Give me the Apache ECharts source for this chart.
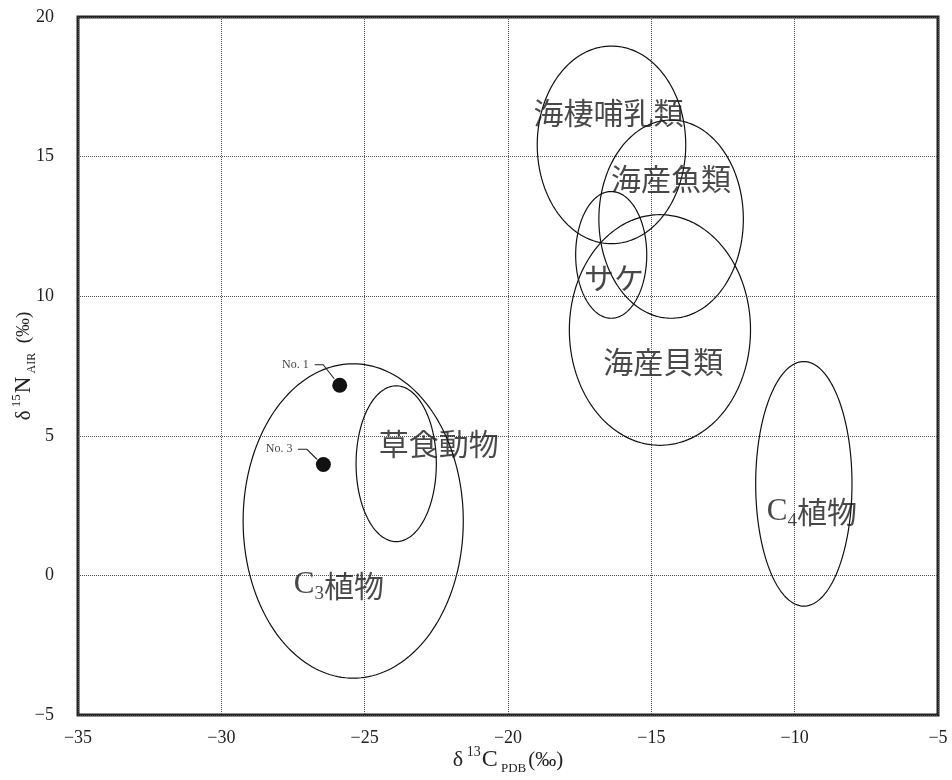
<!DOCTYPE html>
<html>
<head>
<meta charset="utf-8">
<script src="https://cdn.jsdelivr.net/npm/echarts@6/dist/echarts.min.js"></script>
<style>html,body{margin:0;padding:0;background:#fff}#c{width:952px;height:780px}</style>
</head>
<body>
<div id="c"></div>
<script>
// ---- data ----
const groupNames = ['C3植物', '草食動物', '海棲哺乳類', '海産魚類', 'サケ', '海産貝類', 'C4植物'];
const centerX = [-25.40, -23.90, -16.39, -14.31, -16.40, -14.70, -9.68];
const centerY = [1.95, 4.00, 15.42, 12.76, 11.48, 8.79, 3.28];
const radiusX = [3.84, 1.40, 2.59, 2.52, 1.24, 3.16, 1.68];
const radiusY = [5.63, 2.79, 3.54, 3.55, 2.27, 4.13, 4.38];
const labelX = [-25.90, -22.42, -16.49, -14.31, -16.30, -14.58, -9.40];
const labelY = [-0.35, 4.72, 16.58, 14.20, 10.68, 7.64, 2.27];
const sampleNames = ['No. 1', 'No. 3'];
const sampleX = [-25.87, -26.44];
const sampleY = [6.81, 3.97];
const xMin = -35, xMax = -5, xStep = 5;
const yMin = -5, yMax = 20, yStep = 5;

// ---- styles ----
const serif = '"Liberation Serif", "DejaVu Serif", serif';
const cjk = '"Noto Sans CJK JP", sans-serif';
const leaderOffsets = {
  'No. 1': { text: [-31, -20.5], pts: [[-25, -20.5], [-16.5, -20.5], [-5.5, -6.5]] },
  'No. 3': { text: [-31, -15.3], pts: [[-25.5, -15.3], [-16.5, -15.3], [-6.5, -5.3]] }
};

const ellipseData = groupNames.map((n, i) => [centerX[i], centerY[i], radiusX[i], radiusY[i]]);
const labelData = groupNames.map((n, i) => ({ name: n, value: [labelX[i], labelY[i]] }));
const sampleData = sampleNames.map((n, i) => ({ name: n, value: [sampleX[i], sampleY[i]] }));

function fmtLabel(name) {
  const m = name.match(/^C(\d)(.*)$/);
  if (m) return '{c|C}{sub|' + m[1] + '}{t|' + m[2] + '}';
  return '{t|' + name + '}';
}

const chart = echarts.init(document.getElementById('c'), null, { renderer: 'canvas' });
const minus = v => String(v).replace('-', '\u2212');

chart.setOption({
  animation: false,
  backgroundColor: '#fff',
  grid: { left: 78, right: 14, top: 17, bottom: 65, containLabel: false, outerBoundsMode: 'none', show: true, borderWidth: 3, borderColor: '#222', backgroundColor: 'transparent' },
  xAxis: {
    type: 'value', min: xMin, max: xMax, interval: xStep,
    axisLine: { show: false }, axisTick: { show: false },
    splitLine: { show: true, lineStyle: { color: '#555', width: 1, type: [1, 1] } },
    axisLabel: { formatter: minus, color: '#222', fontFamily: serif, fontSize: 18, margin: 14 },
    name: '{d|δ}{sup| 13}{c|C}{sub| PDB}{p|(‰)}',
    nameLocation: 'middle', nameGap: 30, nameMoveOverlap: false,
    nameTextStyle: {
      color: '#222', fontFamily: serif,
      rich: {
        d: { fontSize: 22, fontFamily: serif, color: '#222', lineHeight: 30 },
        sup: { fontSize: 14, fontFamily: serif, color: '#222', verticalAlign: 'top', lineHeight: 30, padding: [0, 1, 0, 0] },
        c: { fontSize: 24, fontFamily: serif, color: '#222', lineHeight: 30 },
        sub: { fontSize: 13, fontFamily: serif, color: '#222', verticalAlign: 'bottom', lineHeight: 18, padding: [0, 2, 0, 0] },
        p: { fontSize: 21, fontFamily: serif, color: '#222', lineHeight: 30 }
      }
    }
  },
  yAxis: {
    type: 'value', min: yMin, max: yMax, interval: yStep,
    axisLine: { show: false }, axisTick: { show: false },
    splitLine: { show: true, lineStyle: { color: '#555', width: 1, type: [1, 1] } },
    axisLabel: { formatter: minus, color: '#222', fontFamily: serif, fontSize: 18, margin: 24 },
    name: '{d|δ}{sup| 15}{c|N}{sub| AIR}{p|  (‰)}',
    nameLocation: 'middle', nameGap: 40, nameRotate: 90, nameMoveOverlap: false,
    nameTextStyle: {
      color: '#222', fontFamily: serif,
      rich: {
        d: { fontSize: 21, fontFamily: serif, color: '#222', lineHeight: 28 },
        sup: { fontSize: 13, fontFamily: serif, color: '#222', verticalAlign: 'top', lineHeight: 28, padding: [0, 1, 0, 0] },
        c: { fontSize: 23, fontFamily: serif, color: '#222', lineHeight: 28 },
        sub: { fontSize: 12, fontFamily: serif, color: '#222', verticalAlign: 'bottom', lineHeight: 16 },
        p: { fontSize: 19, fontFamily: serif, color: '#222', lineHeight: 28 }
      }
    }
  },
  series: [
    {
      type: 'custom',
      name: 'ellipses',
      silent: true,
      clip: false,
      data: ellipseData,
      renderItem: function (params, api) {
        const cx = api.value(0), cy = api.value(1), rx = api.value(2), ry = api.value(3);
        const pts = [];
        const N = 180;
        for (let k = 0; k < N; k++) {
          const a = 2 * Math.PI * k / N;
          pts.push(api.coord([cx + rx * Math.cos(a), cy + ry * Math.sin(a)]));
        }
        return {
          type: 'polygon',
          shape: { points: pts },
          style: { fill: 'none', stroke: '#111', lineWidth: 1.2 }
        };
      },
      z: 2
    },
    {
      type: 'scatter',
      name: 'labels',
      silent: true,
      symbolSize: 0,
      data: labelData,
      label: {
        show: true, position: 'inside',
        formatter: p => fmtLabel(p.name),
        rich: {
          t: { fontSize: 30, fontFamily: cjk, color: '#1a1a1a', lineHeight: 36 },
          c: { fontSize: 31, fontFamily: serif, color: '#1a1a1a', lineHeight: 36 },
          sub: { fontSize: 19, fontFamily: serif, color: '#1a1a1a', verticalAlign: 'bottom', lineHeight: 12 }
        }
      },
      z: 3
    },
    {
      type: 'custom',
      name: 'samples',
      data: sampleData,
      clip: false,
      renderItem: function (params, api) {
        const p = api.coord([api.value(0), api.value(1)]);
        const name = sampleNames[params.dataIndex];
        const o = leaderOffsets[name];
        return {
          type: 'group',
          children: [
            { type: 'polyline', shape: { points: o.pts.map(q => [p[0] + q[0], p[1] + q[1]]) }, style: { stroke: '#222', lineWidth: 1.1, fill: 'none' } },
            { type: 'circle', shape: { cx: p[0], cy: p[1], r: 7.5 }, style: { fill: '#111' } },
            { type: 'text', x: p[0] + o.text[0], y: p[1] + o.text[1], style: { text: name, fill: '#444', font: '12px ' + serif, align: 'right', verticalAlign: 'middle' } }
          ]
        };
      },
      z: 4
    }
  ]
});
</script>
</body>
</html>
